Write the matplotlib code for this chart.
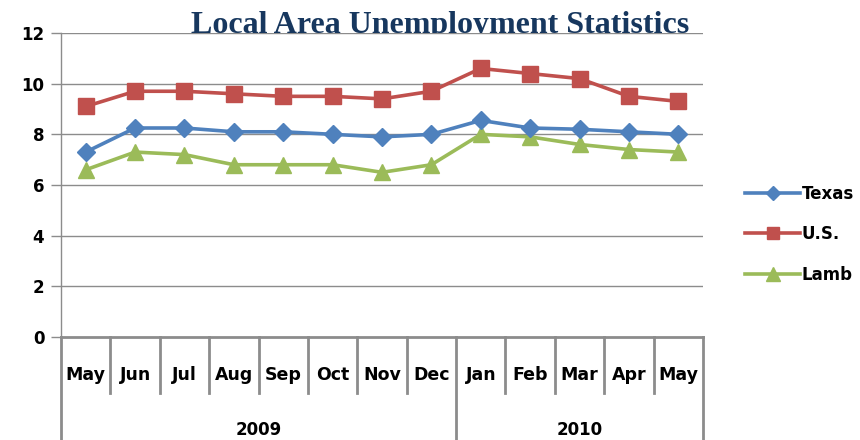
import matplotlib
matplotlib.use("Agg")
import matplotlib.pyplot as plt
import matplotlib.transforms as mtransforms

months = ["May", "Jun", "Jul", "Aug", "Sep", "Oct", "Nov", "Dec",
          "Jan", "Feb", "Mar", "Apr", "May"]
years = ["2009", "2010"]
year_counts = [8, 5]
texas = [7.3, 8.25, 8.25, 8.1, 8.1, 8.0, 7.9, 8.0, 8.55, 8.25, 8.2, 8.1, 8.0]
us = [9.1, 9.7, 9.7, 9.6, 9.5, 9.5, 9.4, 9.7, 10.6, 10.4, 10.2, 9.5, 9.3]
lamb = [6.6, 7.3, 7.2, 6.8, 6.8, 6.8, 6.5, 6.8, 8.0, 7.9, 7.6, 7.4, 7.3]
yticks = [0, 2, 4, 6, 8, 10, 12]

W, H = 860, 440
fig = plt.figure(figsize=(W / 100, H / 100), dpi=100)
x0, x1, ytop, ybot = 61, 703, 33, 337
ax = fig.add_axes([x0 / W, (H - ybot) / H, (x1 - x0) / W, (ybot - ytop) / H])
ax.set_facecolor("white")
ax.set_zorder(1)

font = "DejaVu Sans"
grid_c = "#8C8C8C"

xs = list(range(len(months)))
ax.plot(xs, texas, color="#4F81BD", lw=2.6, marker="D", ms=9, label="Texas", zorder=4)
ax.plot(xs, us, color="#C0504D", lw=2.6, marker="s", ms=11, label="U.S.", zorder=3)
ax.plot(xs, lamb, color="#9BBB59", lw=2.6, marker="^", ms=12, label="Lamb", zorder=3)

ax.set_xlim(-0.5, len(months) - 0.5)
ax.set_ylim(0, 12)
ax.set_yticks(yticks)
ax.set_yticklabels([str(v) for v in yticks], fontfamily=font, fontweight="bold", fontsize=12)
for v in yticks[1:]:
    ax.axhline(v, color=grid_c, lw=1, zorder=1)
ax.tick_params(axis="y", length=7, width=1, color=grid_c, pad=5)
ax.set_xticks([])
for s in ["top", "right"]:
    ax.spines[s].set_visible(False)
ax.spines["left"].set_color(grid_c)
ax.spines["left"].set_linewidth(1)
ax.spines["bottom"].set_color(grid_c)
ax.spines["bottom"].set_linewidth(2)

trans = mtransforms.blended_transform_factory(ax.transData, ax.transAxes)
axh = ybot - ytop
sep_bot = -(393 - ybot) / axh
year_bot = -(H - ybot) / axh
boundaries = [-0.5]
acc = -0.5
for c in year_counts:
    acc += c
    boundaries.append(acc)
for i in range(len(months) + 1):
    xb = i - 0.5
    yb = year_bot if xb in boundaries else sep_bot
    ax.plot([xb, xb], [0, yb], color=grid_c, lw=2, transform=trans, clip_on=False)
for i, m in enumerate(months):
    ax.text(i, -(375 - ybot) / axh, m, transform=trans, ha="center", va="center",
            fontfamily=font, fontweight="bold", fontsize=12.5)
start = 0
for yname, c in zip(years, year_counts):
    ax.text(start + (c - 1) / 2, -(430 - ybot) / axh, yname, transform=trans,
            ha="center", va="center", fontfamily=font, fontweight="bold", fontsize=12)
    start += c

fig.text(440 / W, 1 - 33 / H, "Local Area Unemployment Statistics", ha="center",
         va="baseline", fontfamily="Liberation Serif", fontweight="bold",
         fontsize=23, color="#17375E", zorder=-1)

leg = fig.legend(loc="center left", bbox_to_anchor=(730 / W, 1 - 234 / H),
                 frameon=False, handlelength=3.3, handletextpad=0.1, markerscale=0.8,
                 labelspacing=1.35, prop={"family": font, "weight": "bold", "size": 12})

fig.savefig("out.png", dpi=100)
